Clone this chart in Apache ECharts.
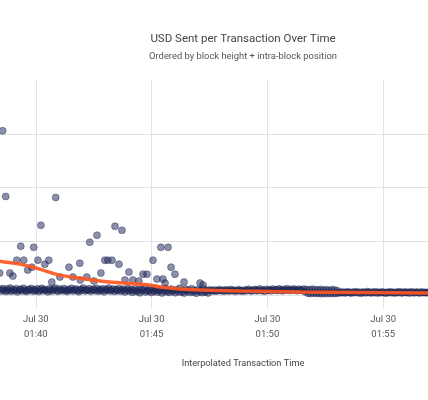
<!DOCTYPE html>
<html>
<head>
<meta charset="utf-8">
<script src="https://cdn.jsdelivr.net/npm/echarts@6/dist/echarts.min.js"></script>
<style>html,body{margin:0;padding:0;background:#fff;}#c{width:428px;height:400px;}</style>
</head>
<body>
<div id="c"></div>
<script>
// Time values are minutes past 01:00 on Jul 30; amounts in USD.
var xTicks = [35, 40, 45, 50, 55, 60];
var tickDate = 'Jul 30';
var yTicks = [0, 5000, 10000, 15000, 20000];

var outliers = [
  [38.57,15280],[38.70,9170],[40.86,9070],[40.22,6480],[43.42,6390],[43.72,6020],[42.64,5560],[42.33,4910],
  [39.35,4540],[39.91,4440],[45.40,4440],[45.71,4440],[38.44,2040],[38.88,2040],[39.01,1760],[39.18,3240],
  [39.48,3240],[40.09,3240],[40.56,3240],[40.39,2870],[39.83,2590],[39.65,2320],[41.43,2590],[41.90,2960],
  [42.98,3240],[43.11,3240],[43.29,3240],[43.59,2870],[42.81,2040],[44.02,2130],[45.06,3240],[45.84,2590],
  [46.01,1940],[44.63,1940],[44.80,1940],[41.04,1670],[41.60,1670],[42.20,1670],[41.92,1390],[40.69,1200],
  [43.85,1390],[44.19,1390],[44.45,1300],[45.23,1480],[45.49,1480],[45.58,1110],[46.40,1200],[47.09,1110],
  [47.22,930],[42.51,1300]
];

var bandEarly = [
  [38.45,510],[38.52,380],[38.58,600],[38.63,450],[38.71,330],[38.77,560],[38.84,420],[38.9,640],[38.95,350],[39.03,500],
  [39.1,410],[39.16,590],[39.21,300],[39.29,470],[39.35,540],[39.42,380],[39.47,620],[39.55,430],[39.6,320],[39.68,520],
  [39.74,460],[39.8,610],[39.87,360],[39.93,490],[40.0,400],[40.06,570],[40.13,330],[40.19,480],[40.26,620],[40.32,390],
  [40.38,510],[40.45,440],[40.52,300],[40.58,580],[40.64,460],[40.71,370],[40.77,530],[40.84,650],[40.9,410],[40.96,340],
  [41.03,560],[41.09,470],[41.16,390],[41.22,600],[41.29,430],[41.35,320],[41.41,520],[41.48,450],[41.54,620],[41.61,370],
  [41.67,480],[41.73,560],[41.8,400],[41.86,310],[41.93,540],[41.99,460],[42.05,650],[42.12,380],[42.18,500],[42.25,430],
  [42.31,590],[42.38,340],[42.44,470],[42.5,550],[42.57,400],[42.63,620],[42.7,360],[42.76,490],[42.82,430],[42.89,580],
  [42.95,310],[43.02,520],[43.08,450],[43.14,640],[43.21,380],[43.27,470],[43.34,560],[43.4,330],[43.47,500],[43.53,420],
  [43.59,610],[43.66,350],[43.72,480],[43.79,540],[43.85,290],[43.91,450],[43.98,600],[44.04,370],[44.11,510],[44.17,250],
  [44.23,430],[44.3,580],[44.36,320],[44.43,470],[44.49,200],[44.56,540],[44.62,390],[44.68,630],[44.75,280],[44.81,450],
  [44.88,360],[44.94,560],[45.0,230],[45.07,480],[45.13,340],[45.2,610],[45.26,270],[45.32,420],[45.39,520],[45.45,190],
  [45.52,380],[45.58,600],[45.65,300],[45.71,460],[45.77,240],[45.84,550],[45.9,350],[45.97,430],[46.03,210],[46.09,500],
  [46.16,320],[46.22,620],[46.29,260],[46.35,410],[46.41,180],[46.48,530],[46.54,340],[46.61,450],[46.67,230],[46.74,580],
  [46.8,300],[46.86,420],[46.93,170],[46.99,500],[47.06,330],[47.12,440],[47.18,220],[47.25,560],[47.31,290],[47.38,400],
  [47.44,190],[47.5,470]
];

var bandLate = [
  [47.57,430],[47.64,380],[47.71,470],[47.78,350],[47.85,420],[47.92,500],[47.99,390],[48.06,440],[48.13,360],[48.2,480],
  [48.27,410],[48.34,370],[48.41,520],[48.48,400],[48.55,450],[48.62,340],[48.69,430],[48.76,490],[48.83,380],[48.9,420],
  [48.97,360],[49.04,470],[49.11,400],[49.18,540],[49.25,420],[49.32,370],[49.39,460],[49.46,510],[49.53,390],[49.6,440],
  [49.67,560],[49.74,400],[49.81,470],[49.88,360],[49.95,520],[50.02,430],[50.09,480],[50.16,390],[50.23,550],[50.3,440],
  [50.37,500],[50.44,410],[50.51,570],[50.58,460],[50.65,390],[50.72,530],[50.79,450],[50.86,580],[50.93,420],[51.0,500],
  [51.07,440],[51.14,560],[51.21,470],[51.28,400],[51.35,540],[51.42,480],[51.49,430],[51.56,550],[51.63,300],
  [51.7,520],[51.75,160],[51.82,480],[51.87,130],[51.94,540],[51.99,180],[52.06,500],[52.11,140],[52.18,470],[52.23,170],
  [52.3,520],[52.35,120],[52.42,450],[52.47,160],[52.54,490],[52.59,130],[52.66,430],[52.71,170],[52.78,500],[52.83,140],
  [52.9,460],[52.95,150],[53.02,400],[53.07,180],
  [53.14,260],[53.21,210],[53.28,290],[53.35,190],[53.42,240],[53.49,300],[53.56,220],[53.63,180],[53.7,270],[53.77,230],
  [53.84,310],[53.91,200],[53.98,250],[54.05,170],[54.12,280],[54.19,230],[54.26,200],[54.33,320],[54.4,240],[54.47,190],
  [54.54,270],[54.61,220],[54.68,300],[54.75,180],[54.82,250],[54.89,210],[54.96,290],[55.03,240],[55.1,170],[55.17,260],
  [55.24,220],[55.31,300],[55.38,200],[55.45,250],[55.52,180],[55.59,270],[55.66,230],[55.73,310],[55.8,190],[55.87,240],
  [55.94,280],[56.01,210],[56.08,260],[56.15,180],[56.22,300],[56.29,230],[56.36,200],[56.43,270],[56.5,240],[56.57,190],
  [56.64,290],[56.71,220],[56.78,260],[56.85,200],[56.92,250],[56.99,230]
];

var trend = [
  [38.2,3300],[38.44,3150],[39.31,2870],[40.17,2410],[41.04,1850],[41.90,1570],[42.77,1300],[44.06,1065],
  [44.93,926],[45.36,741],[46.22,556],[47.09,463],[48.82,370],[51.41,278],[54.0,231],[56.95,185],[57.5,180]
];

var FONT = 'Roboto, "Noto Sans", sans-serif';
function fmtTick(v) {
  var h = 1 + Math.floor(v / 60);
  var m = Math.round(v % 60);
  return tickDate + '\n' + (h < 10 ? '0' : '') + h + ':' + (m < 10 ? '0' : '') + m;
}

var chart = echarts.init(document.getElementById('c'), null, {renderer: 'canvas'});
var gridCol = '#e2e2e2';
chart.setOption({
  animation: false,
  backgroundColor: '#fff',
  title: [
    {text: 'USD Sent per Transaction Over Time', left: 243, top: 31, textAlign: 'center', padding: 0,
     textStyle: {fontFamily: FONT, fontSize: 11.5, fontWeight: 'normal', color: '#444', lineHeight: 16}},
    {text: 'Ordered by block height + intra-block position', left: 243, top: 49.5, textAlign: 'center', padding: 0,
     textStyle: {fontFamily: FONT, fontSize: 9.4, fontWeight: 'normal', color: '#555', lineHeight: 14}},
    {text: 'Interpolated Transaction Time', left: 243, top: 356.5, textAlign: 'center', padding: 0,
     textStyle: {fontFamily: FONT, fontSize: 9.2, fontWeight: 'normal', color: '#444', lineHeight: 14}}
  ],
  grid: {left: -80, right: -71, top: 80, bottom: 105, containLabel: false, outerBoundsMode: 'none'},
  xAxis: {
    type: 'value', min: xTicks[0], max: xTicks[xTicks.length - 1], interval: 5,
    axisLine: {show: false},
    axisTick: {show: true, length: 13, lineStyle: {color: gridCol, width: 1}},
    splitLine: {show: true, lineStyle: {color: gridCol, width: 1}},
    axisLabel: {formatter: fmtTick, fontFamily: FONT, fontSize: 9.5, color: '#555', lineHeight: 15, margin: 17}
  },
  yAxis: {
    type: 'value', min: yTicks[0], max: yTicks[yTicks.length - 1], interval: 5000,
    axisLine: {show: false}, axisTick: {show: false}, axisLabel: {show: false},
    splitLine: {show: true, showMaxLine: false, lineStyle: {color: gridCol, width: 1}}
  },
  series: [
    {type: 'scatter', data: bandEarly.concat(bandLate).concat(outliers), symbolSize: 7, clip: false, z: 2,
     itemStyle: {color: 'rgba(34,42,92,0.66)', borderColor: 'rgba(22,28,70,0.8)', borderWidth: 0.6}},
    {type: 'line', data: trend, smooth: 0.4, showSymbol: false, symbol: 'none', z: 3,
     lineStyle: {color: 'rgba(255,87,34,0.92)', width: 3.5}}
  ]
});
</script>
</body>
</html>
